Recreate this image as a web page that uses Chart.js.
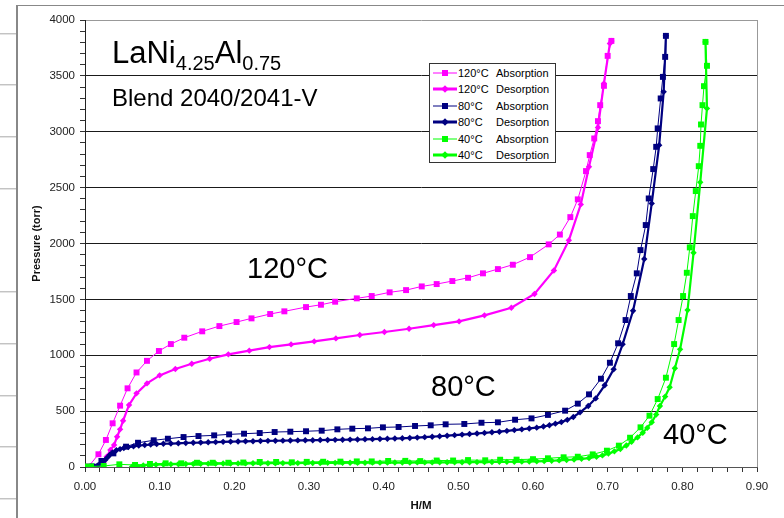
<!DOCTYPE html>
<html lang="en">
<head>
  <meta charset="UTF-8">
  <title>LaNi4.25Al0.75 Isotherms</title>
  <style>
    body {
      margin: 0;
      width: 784px;
      height: 518px;
      position: relative;
      overflow: hidden;
      background: #fff;
      font-family: 'Liberation Sans', Arial, sans-serif;
    }
    /* spreadsheet rows peeking out on the left */
    .rows {
      position: absolute;
      left: 0; top: 0;
      width: 17px; height: 518px;
      background: repeating-linear-gradient(to bottom, transparent 0, transparent 50.7px, #a8a8a8 50.7px, #a8a8a8 51.7px);
      background-position: 0 -17.7px;
    }
    .frame {
      position: absolute;
      left: 16px; top: 5px; right: 0; bottom: 0;
      border-left: 2px solid #888;
      border-top: 1px solid #888;
    }
    .chart-box {
      position: absolute;
      left: 18px; top: 6px;
      width: 766px; height: 512px;
    }
    .note {
      position: absolute;
      line-height: 1;
      color: #000;
      white-space: nowrap;
    }
    .legend {
      position: absolute;
      left: 429px; top: 63px;
      width: 127px; height: 100px;
      box-sizing: border-box;
      border: 1px solid #333;
      background: #fff;
      padding-top: 1px;
      font-size: 11px;
    }
    .legend .row { position: relative; height: 16.4px; }
    .legend svg { position: absolute; left: 3px; top: 3px; }
    .legend .t { position: absolute; left: 28px; top: 2px; }
    .legend .k { position: absolute; left: 66px; top: 2px; }
  </style>
</head>
<body>
  <div class="rows"></div>
  <div class="frame"></div>
  <div class="chart-box">
    <canvas id="isoChart"></canvas>
  </div>

  <div class="note" style="left:112px; top:37px; font-size:31px;">LaNi<span style="font-size:20px; position:relative; top:7px;">4.25</span>Al<span style="font-size:20px; position:relative; top:7px;">0.75</span></div>
  <div class="note" style="left:112px; top:86px; font-size:24px;">Blend 2040/2041-V</div>
  <div class="note" style="left:247px; top:254px; font-size:29px;">120°C</div>
  <div class="note" style="left:431px; top:372px; font-size:29px;">80°C</div>
  <div class="note" style="left:663px; top:420px; font-size:29px;">40°C</div>

  <div class="legend" id="legend"></div>

  <script src="https://cdn.jsdelivr.net/npm/chart.js"></script>
  <script>
    // series labels
    const seriesTemps = ['120°C', '120°C', '80°C', '80°C', '40°C', '40°C'];
    const seriesKinds = ['Absorption', 'Desorption', 'Absorption', 'Desorption', 'Absorption', 'Desorption'];

    // 120°C
    const absH120 = [0.005, 0.018, 0.028, 0.037, 0.047, 0.057, 0.069, 0.083, 0.099, 0.115,
      0.133, 0.157, 0.180, 0.203, 0.223, 0.248, 0.267, 0.296, 0.316, 0.335,
      0.364, 0.384, 0.408, 0.430, 0.451, 0.471, 0.492, 0.513, 0.533, 0.553,
      0.573, 0.596, 0.621, 0.636, 0.650, 0.660, 0.671, 0.676, 0.682, 0.687,
      0.690, 0.695, 0.700, 0.705];
    const absP120 = [5, 114, 242, 391, 549, 704, 846, 950, 1038, 1100,
      1157, 1214, 1261, 1297, 1330, 1369, 1393, 1431, 1452, 1479,
      1509, 1530, 1563, 1583, 1616, 1637, 1664, 1693, 1733, 1771,
      1810, 1878, 1992, 2080, 2236, 2395, 2648, 2791, 2940, 3095,
      3238, 3411, 3679, 3813];
    const desH120 = [0.012, 0.020, 0.025, 0.029, 0.034, 0.039, 0.043, 0.047, 0.051, 0.059,
      0.069, 0.083, 0.100, 0.121, 0.143, 0.167, 0.192, 0.220, 0.247, 0.276,
      0.307, 0.336, 0.368, 0.401, 0.434, 0.467, 0.501, 0.535, 0.571, 0.602,
      0.628, 0.648, 0.664, 0.675, 0.687, 0.695, 0.703, 0.705];
    const desP120 = [0, 15, 45, 92, 152, 197, 271, 337, 414, 555,
      659, 748, 820, 877, 924, 969, 1008, 1041, 1073, 1097,
      1124, 1151, 1181, 1208, 1237, 1270, 1303, 1357, 1425, 1548,
      1759, 2028, 2350, 2686, 3038, 3432, 3790, 3813];

    // 80°C
    const absH80 = [0.010, 0.022, 0.038, 0.055, 0.071, 0.092, 0.111, 0.132, 0.152, 0.173,
      0.193, 0.213, 0.234, 0.254, 0.275, 0.296, 0.317, 0.338, 0.358, 0.379,
      0.399, 0.420, 0.442, 0.463, 0.483, 0.508, 0.531, 0.553, 0.576, 0.598,
      0.620, 0.643, 0.660, 0.675, 0.691, 0.703, 0.714, 0.724, 0.731, 0.739,
      0.744, 0.751, 0.755, 0.761, 0.765, 0.767, 0.771, 0.774, 0.777, 0.778];
    const absP80 = [5, 54, 122, 182, 217, 239, 253, 268, 277, 283,
      292, 298, 304, 313, 316, 320, 325, 337, 343, 346,
      355, 358, 367, 373, 382, 385, 396, 400, 423, 435,
      466, 504, 567, 650, 790, 933, 1107, 1315, 1530, 1733,
      1941, 2165, 2403, 2666, 2865, 3030, 3298, 3491, 3670, 3858];
    const desH80 = [0.017, 0.022, 0.027, 0.030, 0.033, 0.037, 0.042, 0.047, 0.052, 0.058,
      0.065, 0.072, 0.080, 0.088, 0.096, 0.105, 0.115, 0.125, 0.135, 0.145,
      0.155, 0.165, 0.175, 0.185, 0.195, 0.205, 0.215, 0.225, 0.235, 0.245,
      0.255, 0.265, 0.275, 0.285, 0.295, 0.305, 0.315, 0.325, 0.335, 0.345,
      0.355, 0.365, 0.375, 0.385, 0.395, 0.405, 0.415, 0.425, 0.435, 0.445,
      0.455, 0.465, 0.475, 0.485, 0.495, 0.505, 0.515, 0.525, 0.535, 0.545,
      0.555, 0.565, 0.575, 0.585, 0.595, 0.605,
      0.614, 0.622, 0.630, 0.638, 0.646, 0.654, 0.663, 0.674, 0.684, 0.696,
      0.708, 0.720, 0.734, 0.749, 0.759, 0.769, 0.775, 0.778];
    const desP80 = [12, 35, 63, 85, 107, 128, 150, 160, 170, 178,
      185, 192, 197, 201, 205, 208, 210, 212, 215, 217,
      219, 221, 223, 225, 227, 228, 230, 231, 233, 234,
      235, 236, 237, 238, 239, 240, 241, 242, 243, 244,
      245, 246, 248, 249, 251, 253, 255, 257, 260, 263,
      267, 271, 275, 280, 285, 290, 295, 300, 305, 311,
      316, 323, 330, 337, 345, 352,
      362, 374, 388, 402, 422, 448, 489, 546, 614, 731,
      874, 1098, 1398, 1861, 2359, 2880, 3357, 3858];

    // 40°C
    const absH40 = [0.000, 0.008, 0.025, 0.046, 0.067, 0.087, 0.108, 0.129, 0.150, 0.171,
      0.192, 0.212, 0.234, 0.256, 0.277, 0.297, 0.319, 0.342, 0.364, 0.384,
      0.406, 0.429, 0.449, 0.471, 0.493, 0.513, 0.536, 0.556, 0.578, 0.600,
      0.620, 0.641, 0.660, 0.680, 0.699, 0.715, 0.730, 0.744, 0.756, 0.767,
      0.778, 0.789, 0.795, 0.801, 0.806, 0.810, 0.814, 0.818, 0.822, 0.824,
      0.825, 0.827, 0.829, 0.833, 0.831];
    const absP40 = [5, 5, 9, 24, 18, 27, 33, 33, 38, 38,
      38, 40, 45, 45, 42, 46, 47, 48, 50, 50,
      54, 55, 53, 58, 58, 62, 60, 65, 66, 70,
      78, 87, 92, 113, 146, 191, 262, 355, 459, 608,
      799, 1100, 1315, 1530, 1738, 1965, 2245, 2469, 2692, 2874,
      3065, 3238, 3408, 3590, 3804];
    const desH40 = [0.063, 0.070, 0.078, 0.086, 0.095,
      0.105, 0.115, 0.125, 0.135, 0.145, 0.155, 0.165, 0.175, 0.185, 0.195,
      0.205, 0.215, 0.225, 0.235, 0.245, 0.255, 0.265, 0.275, 0.285, 0.295,
      0.305, 0.315, 0.325, 0.335, 0.345, 0.355, 0.365, 0.375, 0.385, 0.395,
      0.405, 0.415, 0.425, 0.435, 0.445, 0.455, 0.465, 0.475, 0.485, 0.495,
      0.505, 0.515, 0.525, 0.535, 0.545, 0.555, 0.565, 0.575, 0.585, 0.595,
      0.605, 0.615, 0.625, 0.635, 0.645, 0.655, 0.665, 0.675, 0.685,
      0.693, 0.701, 0.709, 0.717, 0.725, 0.732, 0.740, 0.747, 0.753, 0.759,
      0.765, 0.770, 0.777, 0.783, 0.790, 0.797, 0.807, 0.815, 0.824, 0.833, 0.831];
    const desP40 = [3, 8, 14, 18, 21,
      23, 25, 26, 27, 28, 29, 30, 30, 31, 31,
      32, 32, 33, 33, 34, 34, 35, 35, 35, 36,
      36, 36, 37, 37, 37, 38, 38, 38, 39, 39,
      39, 40, 40, 40, 41, 41, 41, 42, 42, 42,
      43, 43, 44, 44, 45, 46, 46, 47, 48, 49,
      51, 53, 56, 59, 63, 67, 73, 80, 92,
      104, 120, 140, 161, 192, 226, 265, 307, 350, 400,
      470, 546, 630, 713, 883, 1053, 1404, 1917, 2547, 3209, 3804];

    const seriesH = [absH120, desH120, absH80, desH80, absH40, desH40];
    const seriesP = [absP120, desP120, absP80, desP80, absP40, desP40];

    // styling
    const colors = ['#FF00FF', '#FF00FF', '#000080', '#000080', '#00FF00', '#00FF00'];

    const pts = (h, p) => h.map((x, i) => ({ x: x, y: p[i] }));

    const datasets = seriesH.map((h, i) => {
      const isAbs = seriesKinds[i] === 'Absorption';
      return {
        label: seriesTemps[i] + ' ' + seriesKinds[i],
        data: pts(h, seriesP[i]),
        showLine: true,
        borderColor: colors[i],
        backgroundColor: colors[i],
        borderWidth: isAbs ? 1 : 2.2,
        pointStyle: isAbs ? 'rect' : 'rectRot',
        pointRadius: isAbs ? 4.2 : 3.2,
        pointBorderWidth: 0,
        tension: 0,
        order: 6 - i
      };
    });

    // right-hand border of the plot area
    const plotFrame = {
      id: 'plotFrame',
      beforeDatasetsDraw(chart) {
        const { ctx, chartArea: a } = chart;
        ctx.save();
        ctx.strokeStyle = '#999';
        ctx.lineWidth = 1;
        ctx.beginPath();
        ctx.moveTo(Math.round(a.right) + 0.5, a.top);
        ctx.lineTo(Math.round(a.right) + 0.5, a.bottom);
        ctx.stroke();
        ctx.restore();
      }
    };

    Chart.defaults.font.family = "'Liberation Sans', Arial, sans-serif";
    Chart.defaults.color = '#222';

    const ctx = document.getElementById('isoChart').getContext('2d');
    const chart = new Chart(ctx, {
      type: 'scatter',
      data: { datasets: datasets },
      options: {
        responsive: true,
        maintainAspectRatio: false,
        animation: false,
        layout: { padding: { top: 14, right: 27, left: 0, bottom: 0 } },
        plugins: {
          legend: { display: false },
          tooltip: { enabled: false }
        },
        scales: {
          x: {
            type: 'linear',
            min: 0,
            max: 0.9,
            afterFit(s) { s.height = 51; },
            ticks: {
              stepSize: 0.02,
              autoSkip: false,
              maxRotation: 0,
              padding: 8,
              font: { size: 11.5 },
              callback: v => Math.round(v * 100) % 10 === 0 ? v.toFixed(2) : ''
            },
            grid: {
              drawOnChartArea: false,
              tickLength: 5,
              tickColor: '#333'
            },
            border: { color: '#555' },
            title: {
              display: true,
              text: 'H/M',
              font: { size: 11.5, weight: 'bold' },
              color: '#111',
              padding: { top: 0, bottom: 5 }
            }
          },
          y: {
            min: 0,
            max: 4000,
            afterFit(s) { s.width = 67; },
            ticks: {
              stepSize: 100,
              autoSkip: false,
              padding: 5,
              font: { size: 11.5 },
              callback: v => v % 500 === 0 ? v : ''
            },
            grid: {
              tickLength: 5,
              tickColor: '#333',
              color: c => {
                const v = c.tick ? c.tick.value : 0;
                if (v === 4000) return '#999';
                return v % 500 === 0 ? '#1a1a1a' : 'rgba(0,0,0,0)';
              }
            },
            border: { color: '#222' },
            title: {
              display: true,
              text: 'Pressure (torr)',
              font: { size: 11, weight: 'bold' },
              color: '#111',
              padding: { top: 12, bottom: 0 }
            }
          }
        }
      },
      plugins: [plotFrame]
    });

    // legend built from the datasets
    const legendEl = document.getElementById('legend');
    chart.data.datasets.forEach((ds, i) => {
      const isAbs = seriesKinds[i] === 'Absorption';
      const marker = isAbs
        ? '<rect x="9" y="2" width="6" height="6" fill="' + ds.borderColor + '"/>'
        : '<polygon points="12,1.2 15.8,5 12,8.8 8.2,5" fill="' + ds.borderColor + '"/>';
      const row = document.createElement('div');
      row.className = 'row';
      row.innerHTML =
        '<svg width="24" height="10"><line x1="0" y1="5" x2="24" y2="5" stroke="' + ds.borderColor +
        '" stroke-width="' + (isAbs ? 1 : 3) + '"/>' + marker + '</svg>' +
        '<span class="t">' + seriesTemps[i] + '</span><span class="k">' + seriesKinds[i] + '</span>';
      legendEl.appendChild(row);
    });
  </script>
</body>
</html>
